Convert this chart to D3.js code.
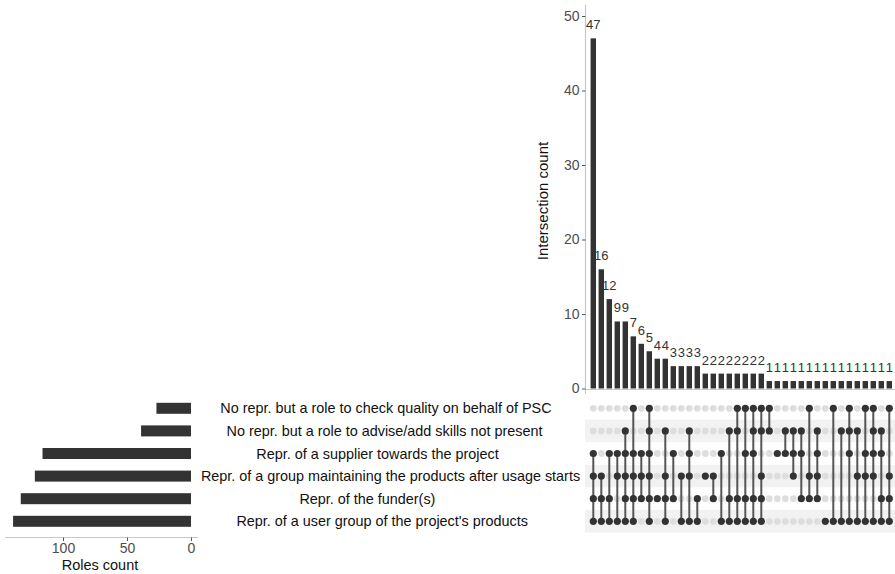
<!DOCTYPE html>
<html>
<head>
<meta charset="utf-8">
<script src="https://cdn.jsdelivr.net/npm/d3@7"></script>
<style>
  html, body { margin: 0; padding: 0; background: #ffffff; }
  svg { display: block; font-family: "Liberation Sans", Arial, sans-serif; }
</style>
</head>
<body>
<svg id="chart" width="895" height="574"></svg>
<script>
// Role sets (matrix rows, top to bottom)
const setNames = [
  "No repr. but a role to check quality on behalf of PSC",
  "No repr. but a role to advise/add skills not present",
  "Repr. of a supplier towards the project",
  "Repr. of a group maintaining the products after usage starts",
  "Repr. of the funder(s)",
  "Repr. of a user group of the project's products"
];
const setSizes = [27, 39, 116, 122, 133, 139];

// Intersections, sorted by size; members are indices into setNames
const intersectionCounts = [47, 16, 12, 9, 9, 7, 6, 5, 4, 4, 3, 3, 3, 3,
  2, 2, 2, 2, 2, 2, 2, 2,
  1, 1, 1, 1, 1, 1, 1, 1, 1, 1, 1, 1, 1, 1, 1, 1];
const intersectionMembers = [
  [2, 3, 4, 5], [3, 4, 5], [2, 4, 5], [2, 3, 5], [1, 2, 3, 4, 5], [0, 2, 3, 4, 5],
  [2, 3, 4], [0, 1, 2, 3, 4, 5], [4], [1, 3, 4, 5], [2, 4], [3, 5], [1, 2, 3, 5], [4, 5],
  [3], [3, 4], [2, 5], [1, 4, 5], [0, 1, 4, 5], [0, 2, 4, 5], [0, 1, 2, 4, 5], [0, 1, 3, 4, 5],
  [0, 1], [2], [1, 2], [1, 2, 3], [1, 2, 4], [0, 3, 4], [1, 2, 3, 4], [5],
  [0, 5], [1, 5], [0, 1, 2, 5], [1, 3, 5], [0, 2, 3, 5], [0, 1, 2, 3, 5], [1, 2, 4, 5], [0, 3, 4, 5]
];
const countTicks = [0, 10, 20, 30, 40, 50];
const sizeTicks = [0, 50, 100];

const svg = d3.select("#chart");
const font = "'Liberation Sans', Arial, sans-serif";
const barColor = "#333333";
const axisGray = "#c8c8c8";
const tickText = "#4d4d4d";

// ---- scales ----
const cols = d3.range(intersectionCounts.length);
const x = d3.scaleBand().domain(cols).range([589.3, 893.3]).paddingInner(0.32).paddingOuter(0.16);
const xc = i => x(i) + x.bandwidth() / 2;

const y = d3.scaleLinear().domain([0, 50]).range([388.5, 16]);

const rowY = d3.scalePoint().domain(d3.range(setNames.length)).range([408.3, 521.3]);
const rowStep = rowY.step();

const sizeX = d3.scaleLinear().domain([0, 100]).range([191, 63]);

// ---- intersection bars ----
const barsG = svg.append("g");
barsG.append("line")
  .attr("x1", 585.5).attr("x2", 585.5).attr("y1", 5).attr("y2", 394)
  .attr("stroke", axisGray).attr("stroke-width", 1.2);
barsG.append("line")
  .attr("x1", 585).attr("x2", 895).attr("y1", 389.5).attr("y2", 389.5)
  .attr("stroke", axisGray).attr("stroke-width", 1.2);

const yAxis = d3.axisLeft(y).tickValues(countTicks).tickSize(3.5).tickPadding(2.5);
const yg = barsG.append("g").attr("transform", "translate(585.5,0)").call(yAxis);
yg.select(".domain").remove();
yg.selectAll(".tick line").attr("stroke", "#555").attr("stroke-width", 1);
yg.selectAll(".tick text").attr("fill", tickText).style("font-size", "14px").style("font-family", font);

barsG.append("text")
  .attr("transform", "translate(548,201) rotate(-90)")
  .attr("text-anchor", "middle")
  .style("font-size", "15px").style("font-family", font).attr("fill", "#111")
  .text("Intersection count");

barsG.selectAll("rect.ibar").data(cols).join("rect")
  .attr("class", "ibar")
  .attr("x", i => x(i)).attr("width", x.bandwidth())
  .attr("y", i => y(intersectionCounts[i]))
  .attr("height", i => y(0) - y(intersectionCounts[i]))
  .attr("fill", barColor);

barsG.selectAll("text.ilabel").data(cols).join("text")
  .attr("class", "ilabel")
  .attr("x", i => xc(i))
  .attr("y", i => y(intersectionCounts[i]) - 9)
  .attr("text-anchor", "middle")
  .style("font-size", "13px").style("font-family", font).attr("fill", "#333")
  .text(i => intersectionCounts[i]);

// ---- matrix ----
const matrix = svg.append("g");
matrix.selectAll("rect.stripe").data(d3.range(setNames.length).filter(r => r % 2 === 1)).join("rect")
  .attr("class", "stripe")
  .attr("x", 585).attr("width", 310)
  .attr("y", r => rowY(r) - rowStep / 2).attr("height", rowStep)
  .attr("fill", "#f2f2f2");

const cells = [];
cols.forEach(c => setNames.forEach((_, r) => cells.push({ c, r, on: intersectionMembers[c].includes(r) })));

matrix.selectAll("circle.off").data(cells.filter(d => !d.on)).join("circle")
  .attr("class", "off")
  .attr("cx", d => xc(d.c)).attr("cy", d => rowY(d.r)).attr("r", 3.4)
  .attr("fill", "#dedede");

matrix.selectAll("line.link").data(cols.filter(c => intersectionMembers[c].length > 1)).join("line")
  .attr("class", "link")
  .attr("x1", c => xc(c)).attr("x2", c => xc(c))
  .attr("y1", c => rowY(d3.min(intersectionMembers[c])))
  .attr("y2", c => rowY(d3.max(intersectionMembers[c])))
  .attr("stroke", "#555").attr("stroke-width", 2);

matrix.selectAll("circle.on").data(cells.filter(d => d.on)).join("circle")
  .attr("class", "on")
  .attr("cx", d => xc(d.c)).attr("cy", d => rowY(d.r)).attr("r", 3.6)
  .attr("fill", barColor);

// ---- set labels (placed from their measured width) ----
svg.append("g").selectAll("text").data(setNames).join("text")
  .attr("y", (d, i) => rowY(i))
  .attr("dy", "0.35em")
  .attr("text-anchor", "start")
  .style("font-size", "14.4px").style("font-family", font).attr("fill", "#111")
  .text(d => d)
  .attr("x", function () {
    const w = this.getComputedTextLength();
    return 354.5 - 0.405 * w;
  });

// ---- set size bars ----
const sizeG = svg.append("g");
sizeG.selectAll("rect").data(setSizes).join("rect")
  .attr("x", d => sizeX(d)).attr("width", d => sizeX(0) - sizeX(d))
  .attr("y", (d, i) => rowY(i) - 5.5).attr("height", 11)
  .attr("fill", barColor);

sizeG.append("line")
  .attr("x1", 5).attr("x2", 198).attr("y1", 537.5).attr("y2", 537.5)
  .attr("stroke", axisGray).attr("stroke-width", 1.2);

const xAxis = d3.axisBottom(sizeX).tickValues(sizeTicks).tickSize(3.5).tickPadding(2);
const xg = sizeG.append("g").attr("transform", "translate(0,537.5)").call(xAxis);
xg.select(".domain").remove();
xg.selectAll(".tick line").attr("stroke", "#555");
xg.selectAll(".tick text").attr("fill", tickText).style("font-size", "14px").style("font-family", font);

sizeG.append("text")
  .attr("x", 100).attr("y", 570)
  .attr("text-anchor", "middle")
  .style("font-size", "14.5px").style("font-family", font).attr("fill", "#111")
  .text("Roles count");
</script>
</body>
</html>
